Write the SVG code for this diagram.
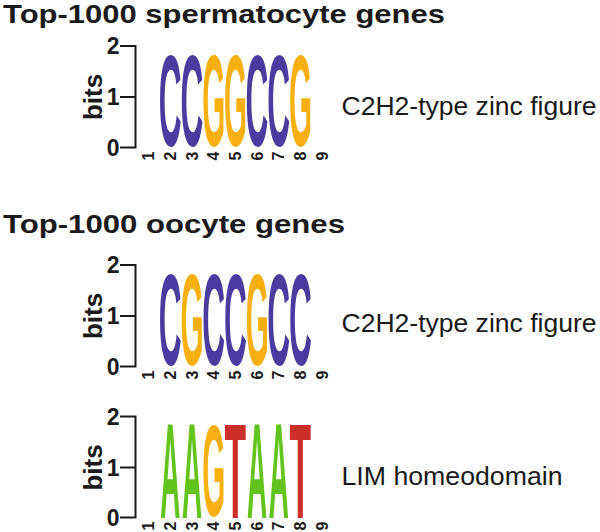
<svg xmlns="http://www.w3.org/2000/svg" width="600" height="532" viewBox="0 0 600 532">
<style>
  .title{font-family:"Liberation Sans",Arial,Helvetica,sans-serif;font-weight:bold;font-size:26px;fill:#1a1a1a}
  .lbl{font-family:"Liberation Sans",Arial,Helvetica,sans-serif;font-size:25px;fill:#1a1a1a}
  .ax{font-family:"Liberation Sans",Arial,Helvetica,sans-serif;font-weight:bold;font-size:23px;fill:#1a1a1a;text-anchor:end}
  .bits{font-family:"Liberation Sans",Arial,Helvetica,sans-serif;font-weight:bold;font-size:26px;fill:#1a1a1a;text-anchor:middle}
  .pos{font-family:"Liberation Sans",Arial,Helvetica,sans-serif;font-weight:bold;font-size:16px;fill:#1a1a1a;text-anchor:end}
  .lg{font-family:"Liberation Sans",Arial,Helvetica,sans-serif;font-weight:bold;font-size:100px;text-anchor:middle}
  .C{fill:#4a3c9f}
  .G{fill:#f8b010}
  .A{fill:#62c31d}
  .T{fill:#cc2f2a}
  .axis{fill:none;stroke:#1a1a1a;stroke-width:2}
</style>

<text class="title" x="3" y="23" textLength="442" lengthAdjust="spacingAndGlyphs">Top-1000 spermatocyte genes</text>
<text class="title" x="3" y="233" textLength="342" lengthAdjust="spacingAndGlyphs">Top-1000 oocyte genes</text>

<!-- Panel 1 -->
<g id="logo1">
  <g id="axis1">
    <path class="axis" d="M120,46 H135.5 V147.5 H120 M120,97 H135.5"/>
    <text class="ax" x="119.5" y="54.2">2</text>
    <text class="ax" x="119.5" y="105.2">1</text>
    <text class="ax" x="119.5" y="155.7">0</text>
    <text class="bits" transform="translate(101.5,97) rotate(-90)">bits</text>
  </g>
  <g id="pos1">
    <text class="pos" transform="translate(154.2,151.5) rotate(-90)">1</text>
    <text class="pos" transform="translate(175.9,151.5) rotate(-90)">2</text>
    <text class="pos" transform="translate(197.6,151.5) rotate(-90)">3</text>
    <text class="pos" transform="translate(219.3,151.5) rotate(-90)">4</text>
    <text class="pos" transform="translate(241,151.5) rotate(-90)">5</text>
    <text class="pos" transform="translate(262.7,151.5) rotate(-90)">6</text>
    <text class="pos" transform="translate(284.4,151.5) rotate(-90)">7</text>
    <text class="pos" transform="translate(306.1,151.5) rotate(-90)">8</text>
    <text class="pos" transform="translate(327.8,151.5) rotate(-90)">9</text>
  </g>
  <g id="letters1">
    <text class="lg C" transform="translate(170.2,148) scale(0.316,1.2985)" y="-1.9">C</text>
    <text class="lg C" transform="translate(191.9,148) scale(0.316,1.2985)" y="-1.9">C</text>
    <text class="lg G" transform="translate(213.6,148) scale(0.296,1.2985)" x="0.7" y="-1.9">G</text>
    <text class="lg G" transform="translate(235.3,148) scale(0.296,1.2985)" x="0.7" y="-1.9">G</text>
    <text class="lg C" transform="translate(257,148) scale(0.316,1.2985)" y="-1.9">C</text>
    <text class="lg C" transform="translate(278.7,148) scale(0.316,1.2985)" y="-1.9">C</text>
    <text class="lg G" transform="translate(300.4,148) scale(0.296,1.2985)" x="0.7" y="-1.9">G</text>
  </g>
  <text id="label1" class="lbl" x="341.5" y="114.5" textLength="255" lengthAdjust="spacingAndGlyphs">C2H2-type zinc figure</text>
</g>

<!-- Panel 2 -->
<g id="logo2">
  <g id="axis2">
    <path class="axis" d="M120,265 H135.5 V366.5 H120 M120,316 H135.5"/>
    <text class="ax" x="119.5" y="273.2">2</text>
    <text class="ax" x="119.5" y="324.2">1</text>
    <text class="ax" x="119.5" y="374.7">0</text>
    <text class="bits" transform="translate(101.5,316) rotate(-90)">bits</text>
  </g>
  <g id="pos2">
    <text class="pos" transform="translate(154.2,370.5) rotate(-90)">1</text>
    <text class="pos" transform="translate(175.9,370.5) rotate(-90)">2</text>
    <text class="pos" transform="translate(197.6,370.5) rotate(-90)">3</text>
    <text class="pos" transform="translate(219.3,370.5) rotate(-90)">4</text>
    <text class="pos" transform="translate(241,370.5) rotate(-90)">5</text>
    <text class="pos" transform="translate(262.7,370.5) rotate(-90)">6</text>
    <text class="pos" transform="translate(284.4,370.5) rotate(-90)">7</text>
    <text class="pos" transform="translate(306.1,370.5) rotate(-90)">8</text>
    <text class="pos" transform="translate(327.8,370.5) rotate(-90)">9</text>
  </g>
  <g id="letters2">
    <text class="lg C" transform="translate(170.2,367) scale(0.316,1.2985)" y="-1.9">C</text>
    <text class="lg G" transform="translate(191.9,367) scale(0.296,1.2985)" x="0.7" y="-1.9">G</text>
    <text class="lg C" transform="translate(213.6,367) scale(0.316,1.2985)" y="-1.9">C</text>
    <text class="lg C" transform="translate(235.3,367) scale(0.316,1.2985)" y="-1.9">C</text>
    <text class="lg G" transform="translate(257,367) scale(0.296,1.2985)" x="0.7" y="-1.9">G</text>
    <text class="lg C" transform="translate(278.7,367) scale(0.316,1.2985)" y="-1.9">C</text>
    <text class="lg C" transform="translate(300.4,367) scale(0.316,1.2985)" y="-1.9">C</text>
  </g>
  <text id="label2" class="lbl" x="341.5" y="332" textLength="255" lengthAdjust="spacingAndGlyphs">C2H2-type zinc figure</text>
</g>

<!-- Panel 3 -->
<g id="logo3">
  <g id="axis3">
    <path class="axis" d="M120,416.5 H135.5 V517.5 H120 M120,467.5 H135.5"/>
    <text class="ax" x="119.5" y="424.7">2</text>
    <text class="ax" x="119.5" y="475.7">1</text>
    <text class="ax" x="119.5" y="525.7">0</text>
    <text class="bits" transform="translate(101.5,467.5) rotate(-90)">bits</text>
  </g>
  <g id="pos3">
    <text class="pos" transform="translate(154.2,521.5) rotate(-90)">1</text>
    <text class="pos" transform="translate(175.9,521.5) rotate(-90)">2</text>
    <text class="pos" transform="translate(197.6,521.5) rotate(-90)">3</text>
    <text class="pos" transform="translate(219.3,521.5) rotate(-90)">4</text>
    <text class="pos" transform="translate(241,521.5) rotate(-90)">5</text>
    <text class="pos" transform="translate(262.7,521.5) rotate(-90)">6</text>
    <text class="pos" transform="translate(284.4,521.5) rotate(-90)">7</text>
    <text class="pos" transform="translate(306.1,521.5) rotate(-90)">8</text>
    <text class="pos" transform="translate(327.8,521.5) rotate(-90)">9</text>
  </g>
  <g id="letters3">
    <text class="lg A" transform="translate(170.2,518) scale(0.277,1.362)">A</text>
    <text class="lg A" transform="translate(191.9,518) scale(0.277,1.362)">A</text>
    <text class="lg G" transform="translate(213.6,518) scale(0.296,1.2985)" x="0.7" y="-1.9">G</text>
    <text class="lg T" transform="translate(235.3,518) scale(0.353,1.362)">T</text>
    <text class="lg A" transform="translate(257,518) scale(0.277,1.362)">A</text>
    <text class="lg A" transform="translate(278.7,518) scale(0.277,1.362)">A</text>
    <text class="lg T" transform="translate(300.4,518) scale(0.353,1.362)">T</text>
  </g>
  <text id="label3" class="lbl" x="341.5" y="484.5" textLength="221" lengthAdjust="spacingAndGlyphs">LIM homeodomain</text>
</g>
</svg>
